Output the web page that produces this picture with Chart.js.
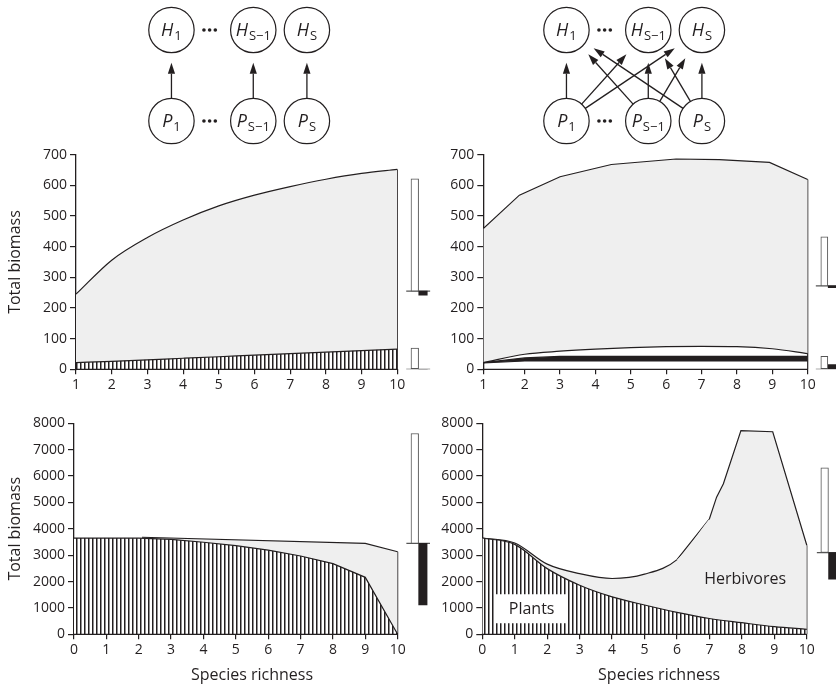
<!DOCTYPE html>
<html>
<head>
<meta charset="utf-8">
<script src="https://cdn.jsdelivr.net/npm/chart.js@4.4.1/dist/chart.umd.min.js"></script>
<style>
  body { margin: 0; background: #fff; width: 836px; height: 688px; position: relative; overflow: hidden; }
  canvas { position: absolute; }
</style>
</head>
<body>
<canvas id="net-left"  width="250" height="150" style="left:126px;top:0px"></canvas>
<canvas id="net-right" width="250" height="150" style="left:521px;top:0px"></canvas>
<canvas id="panel-a" width="433" height="260" style="left:0px;top:140px"></canvas>
<canvas id="panel-b" width="416" height="260" style="left:420px;top:140px"></canvas>
<canvas id="panel-c" width="430" height="283" style="left:0px;top:405px"></canvas>
<canvas id="panel-d" width="416" height="283" style="left:420px;top:405px"></canvas>
<script>
// ============================================================
//  Total biomass vs species richness – specialist (left) and
//  generalist (right) herbivores, two parameter sets (rows)
// ============================================================

const INK  = '#231f20';
const GREY = '#efefef';
const FONT = '"Open Sans", "DejaVu Sans", sans-serif';

// ---- panel A : specialists, top row
const xA        = [1, 2, 3, 4, 5, 6, 7, 8, 9, 10];
const plantsA   = [22, 26, 31, 36, 41, 46, 51, 56, 61, 66];
const totalA    = [245, 356, 430, 487, 533, 568, 596, 620, 639, 652];
const ticksA    = [1, 2, 3, 4, 5, 6, 7, 8, 9, 10];
const labelsA   = ['1', '2', '3', '4', '5', '6', '7', '8', '9', '10'];
const sideBaseA = [255, 0];
const sideUpA   = [621, 69];
const sideDownA = [242, 0];

// ---- panel B : generalists, top row
const xTopB     = [0.83, 1.85, 3, 4.45, 6.28, 7.5, 8.92, 10];
const totalB    = [459, 568, 628, 668, 686, 684, 675, 619];
const xLowB     = [0.83, 2, 3, 4, 5, 6, 7, 8, 9, 10];
const lowB      = [22, 49, 59, 66, 71, 74, 75, 74, 67, 51];
const xBandB    = [0.83, 2, 3, 10];
const bandTopB  = [22, 37, 42, 42];
const bandBotB  = [21, 27, 27, 27];
const ticksB    = [0.83, 2, 3, 4, 5, 6, 7, 8, 9, 10];
const labelsB   = ['1', '2', '3', '4', '5', '6', '7', '8', '9', '10'];
const sideBaseB = [272, 0];
const sideUpB   = [432, 42];
const sideDownB = [266, 15];

// ---- panel C : specialists, bottom row
const xC        = [0, 1, 2, 3, 4, 5, 6, 7, 8, 9, 10];
const plantsC   = [3650, 3650, 3645, 3600, 3490, 3360, 3190, 2970, 2680, 2160, 0];
const xTotC     = [2.1, 9, 10];
const totalC    = [3680, 3450, 3130];
const ticksC    = [0, 1, 2, 3, 4, 5, 6, 7, 8, 9, 10];
const labelsC   = ['0', '1', '2', '3', '4', '5', '6', '7', '8', '9', '10'];
const sideBaseC = [3447];
const sideUpC   = [7614];
const sideDownC = [1110];

// ---- panel D : generalists, bottom row
const xD        = [0, 1, 2, 3, 4, 5, 6, 7, 8, 9, 10];
const plantsD   = [3650, 3410, 2490, 1860, 1420, 1110, 830, 600, 440, 290, 190];
const xCurveD   = [0, 1, 2, 3, 4, 5, 6, 7];
const curveD    = [3650, 3460, 2660, 2300, 2115, 2280, 2830, 4380];
const xPeakD    = [6, 7, 7.22, 7.43, 7.97, 8.95, 10];
const peakD     = [2830, 4380, 5200, 5710, 7720, 7680, 3375];
const sideBaseD = [3100];
const sideUpD   = [6314];
const sideDownD = [2090];

// ---- food-web diagrams
const nodeX      = [0, 1.8, 2.98];
const nodeSubs   = ['1', 'S\u22121', 'S'];
const dotX       = [0.715, 0.84, 0.965];
const linksLeft  = [[0, 0], [1, 1], [2, 2]];
const linksRight = [[0, 0], [0, 1], [0, 2], [1, 0], [1, 1], [1, 2], [2, 0], [2, 1], [2, 2]];

// ------------------------------------------------------------

function pts(xs, ys) {
  return xs.map((x, i) => ({ x, y: ys[i] }));
}

function line(xs, ys, extra) {
  return Object.assign({
    type: 'line', data: pts(xs, ys),
    borderColor: INK, borderWidth: 1.2, pointRadius: 0,
    fill: false, tension: 0,
  }, extra || {});
}

function hatch() {
  const c = document.createElement('canvas');
  c.width = 4; c.height = 4;
  const g = c.getContext('2d');
  g.fillStyle = '#fff'; g.fillRect(0, 0, 4, 4);
  g.fillStyle = INK;    g.fillRect(0, 0, 1.5, 4);
  return g.createPattern(c, 'repeat');
}

// bars drawn to the right of each panel
function sideBars(slot, base, up, down) {
  const out = [
    { type: 'bar', data: base.map((b, i) => ({ x: slot.white, y: [b, up[i]] })),
      backgroundColor: '#fff', borderColor: '#555', borderWidth: 1, borderSkipped: false,
      grouped: false, barThickness: slot.wWhite },
    { type: 'bar', data: base.map((b, i) => ({ x: slot.black, y: [down[i], b] })),
      backgroundColor: INK, borderWidth: 0, grouped: false, barThickness: slot.wBlack },
  ];
  base.forEach(b => out.push(line([slot.from, slot.to], [b, b], { borderColor: '#555', borderWidth: 1.3 })));
  return out;
}

function axisLinePlugin(end) {
  return {
    id: 'axisLine',
    afterDraw(chart) {
      const { ctx, scales: { x, y } } = chart;
      const py = y.getPixelForValue(0);
      ctx.save();
      ctx.strokeStyle = INK; ctx.lineWidth = 1.3;
      ctx.beginPath();
      ctx.moveTo(x.getPixelForValue(x.min) - 0.6, py);
      ctx.lineTo(x.getPixelForValue(end), py);
      ctx.stroke();
      ctx.restore();
    }
  };
}

function notesPlugin(items) {
  return {
    id: 'notes',
    afterDatasetsDraw(chart) {
      const { ctx, scales: { x, y } } = chart;
      ctx.save();
      ctx.font = '16px ' + FONT;
      ctx.textAlign = 'center'; ctx.textBaseline = 'middle';
      items.forEach(n => {
        const px = x.getPixelForValue(n.x), py = y.getPixelForValue(n.y);
        if (n.box) {
          const w = ctx.measureText(n.text).width;
          ctx.fillStyle = '#fff';
          ctx.fillRect(px - w / 2 - 13, py - 15, w + 26, 29);
        }
        ctx.fillStyle = INK;
        ctx.fillText(n.text, px, py);
      });
      ctx.restore();
    }
  };
}

function panel(id, o) {
  const tickFont = { family: FONT, size: 14 };
  const titleFont = { family: FONT, size: 16 };
  return new Chart(document.getElementById(id), {
    type: 'line',
    data: { datasets: o.datasets.concat(sideBars(o.slot, o.base, o.up, o.down)) },
    options: {
      responsive: false, animation: false, events: [],
      layout: { autoPadding: false, padding: { top: o.padTop, right: 0, bottom: 0, left: 0 } },
      plugins: { legend: { display: false }, tooltip: { enabled: false } },
      scales: {
        x: {
          type: 'linear', min: o.xMin, max: o.xMax, offset: false,
          afterBuildTicks: s => { s.ticks = o.ticks.map(v => ({ value: v })); },
          afterFit: s => { s.height = o.xHeight; },
          ticks: { color: INK, font: tickFont, padding: 2, autoSkip: false, maxRotation: 0,
                   callback: (v, i) => o.labels[i] },
          grid: { offset: false, drawOnChartArea: false, drawTicks: true, tickLength: 5, color: INK, lineWidth: 1.2 },
          border: { display: false },
          title: { display: !!o.xTitle, text: o.xTitle, color: INK, font: titleFont,
                   padding: { top: 0, bottom: 3.4 } },
        },
        y: {
          type: 'linear', min: 0, max: o.yMax,
          afterFit: s => { s.width = o.yWidth; },
          ticks: { stepSize: o.yStep, color: INK, font: tickFont, padding: 3, callback: v => String(v) },
          grid: { drawOnChartArea: false, drawTicks: true, tickLength: 6, color: INK, lineWidth: 1.2 },
          border: { display: true, color: INK, width: 1.3 },
          title: { display: !!o.yTitle, text: o.yTitle, color: INK, font: titleFont,
                   padding: { top: 6, bottom: 0 } },
        }
      }
    },
    plugins: [axisLinePlugin(o.axisEnd), notesPlugin(o.notes || [])]
  });
}

function diagram(id, links) {
  const R = 22.7;
  const arrows = {
    id: 'arrows',
    afterDatasetsDraw(chart) {
      const { ctx, scales: { x, y } } = chart;
      ctx.save();
      ctx.strokeStyle = INK; ctx.fillStyle = INK; ctx.lineWidth = 1.3;
      links.forEach(([from, to]) => {
        const px = x.getPixelForValue(nodeX[from]), py = y.getPixelForValue(-1);
        const hx = x.getPixelForValue(nodeX[to]),   hy = y.getPixelForValue(1);
        const len = Math.hypot(hx - px, hy - py);
        const ux = (hx - px) / len, uy = (hy - py) / len;
        const sx = px + ux * R, sy = py + uy * R;
        const tx = hx - ux * (R + 10), ty = hy - uy * (R + 10);
        const bx = tx - ux * 11, by = ty - uy * 11;
        ctx.beginPath(); ctx.moveTo(sx, sy); ctx.lineTo(bx, by); ctx.stroke();
        ctx.beginPath();
        ctx.moveTo(tx, ty);
        ctx.lineTo(bx - uy * 3.6, by + ux * 3.6);
        ctx.lineTo(bx + uy * 3.6, by - ux * 3.6);
        ctx.closePath(); ctx.fill();
      });
      // node names
      [['H', 1], ['P', -1]].forEach(([letter, row]) => {
        nodeX.forEach((nx, i) => {
          const cx = x.getPixelForValue(nx), cy = y.getPixelForValue(row);
          ctx.font = 'italic 18px ' + FONT;
          const w1 = ctx.measureText(letter).width;
          ctx.font = '13px ' + FONT;
          const w2 = ctx.measureText(nodeSubs[i]).width;
          const x0 = cx - (w1 + 1 + w2) / 2;
          ctx.textAlign = 'left'; ctx.textBaseline = 'alphabetic';
          ctx.font = 'italic 18px ' + FONT;
          ctx.fillText(letter, x0, cy + 6);
          ctx.font = '13px ' + FONT;
          ctx.fillText(nodeSubs[i], x0 + w1 + 1, cy + 10);
        });
      });
      ctx.restore();
    }
  };
  return new Chart(document.getElementById(id), {
    type: 'scatter',
    data: {
      datasets: [
        { data: pts(nodeX, nodeX.map(() => 1)).concat(pts(nodeX, nodeX.map(() => -1))),
          pointRadius: R, pointBackgroundColor: '#fff', pointBorderColor: INK, pointBorderWidth: 1.2 },
        { data: pts(dotX, dotX.map(() => 1)).concat(pts(dotX, dotX.map(() => -1))),
          pointRadius: 1.8, pointBackgroundColor: INK, pointBorderWidth: 0 },
      ]
    },
    options: {
      responsive: false, animation: false, events: [],
      layout: { autoPadding: false, padding: 0 },
      plugins: { legend: { display: false }, tooltip: { enabled: false } },
      scales: {
        x: { type: 'linear', display: false, min: -1, max: 4.5 },
        y: { type: 'linear', display: false, min: -1.637, max: 1.659 },
      }
    },
    plugins: [arrows]
  });
}

// ------------------------------------------------------------

const stripes = hatch();
const lastCurveD = xCurveD.length - 1;

diagram('net-left', linksLeft);
diagram('net-right', linksRight);

panel('panel-a', {
  xMin: 1, xMax: 11, ticks: ticksA, labels: labelsA, axisEnd: 10,
  yMax: 700, yStep: 100, yWidth: 76, xHeight: 30.7, padTop: 14.7,
  yTitle: 'Total biomass',
  datasets: [
    line(xA, plantsA, { fill: 'origin', backgroundColor: stripes, cubicInterpolationMode: 'monotone' }),
    line(xA, totalA, { fill: '-1', backgroundColor: GREY, cubicInterpolationMode: 'monotone' }),
    line([10, 10], [0, totalA[totalA.length - 1]]),
  ],
  slot: { white: 10.49, black: 10.72, from: 10.25, to: 10.92, wWhite: 7.6, wBlack: 8.5 },
  base: sideBaseA, up: sideUpA, down: sideDownA,
});

panel('panel-b', {
  xMin: 0.83, xMax: 10.8, ticks: ticksB, labels: labelsB, axisEnd: 10,
  yMax: 700, yStep: 100, yWidth: 63.3, xHeight: 30.7, padTop: 14.7,
  datasets: [
    line(xBandB, bandBotB, { borderColor: INK }),
    line(xBandB, bandTopB, { fill: '-1', backgroundColor: INK }),
    line(xLowB, lowB, { cubicInterpolationMode: 'monotone' }),
    line(xTopB, totalB, { fill: '-1', backgroundColor: GREY }),
    line([10, 10], [0, totalB[totalB.length - 1]]),
  ],
  slot: { white: 10.47, black: 10.7, from: 10.23, to: 10.8, wWhite: 7, wBlack: 8.5 },
  base: sideBaseB, up: sideUpB, down: sideDownB,
});

panel('panel-c', {
  xMin: 0, xMax: 11, ticks: ticksC, labels: labelsC, axisEnd: 10,
  yMax: 8000, yStep: 1000, yWidth: 74, xHeight: 53.7, padTop: 18.3,
  yTitle: 'Total biomass', xTitle: 'Species richness',
  datasets: [
    line(xC, plantsC, { fill: 'origin', backgroundColor: stripes }),
    line(xTotC, totalC, { fill: '-1', backgroundColor: GREY }),
    line([10, 10], [0, totalC[totalC.length - 1]]),
  ],
  slot: { white: 10.53, black: 10.78, from: 10.27, to: 11, wWhite: 7.6, wBlack: 8.4 },
  base: sideBaseC, up: sideUpC, down: sideDownC,
});

panel('panel-d', {
  xMin: 0, xMax: 10.9, ticks: ticksC, labels: labelsC, axisEnd: 10,
  yMax: 8000, yStep: 1000, yWidth: 62.3, xHeight: 53.7, padTop: 18.3,
  xTitle: 'Species richness',
  datasets: [
    line(xD, plantsD, { fill: 'origin', backgroundColor: stripes, cubicInterpolationMode: 'monotone' }),
    // smooth part; its last piece only fills (the straight part strokes it)
    line(xCurveD, curveD, { fill: '-1', backgroundColor: GREY, cubicInterpolationMode: 'monotone',
      segment: { borderColor: c => c.p1DataIndex === lastCurveD ? 'rgba(0,0,0,0)' : INK } }),
    line(xPeakD, peakD, { fill: '-2', backgroundColor: GREY }),
    line([10, 10], [0, peakD[peakD.length - 1]]),
  ],
  notes: [
    { text: 'Plants', x: 1.52, y: 950, box: true },
    { text: 'Herbivores', x: 8.1, y: 2090 },
  ],
  slot: { white: 10.55, black: 10.79, from: 10.31, to: 10.9, wWhite: 7.6, wBlack: 7.7 },
  base: sideBaseD, up: sideUpD, down: sideDownD,
});
</script>
</body>
</html>
